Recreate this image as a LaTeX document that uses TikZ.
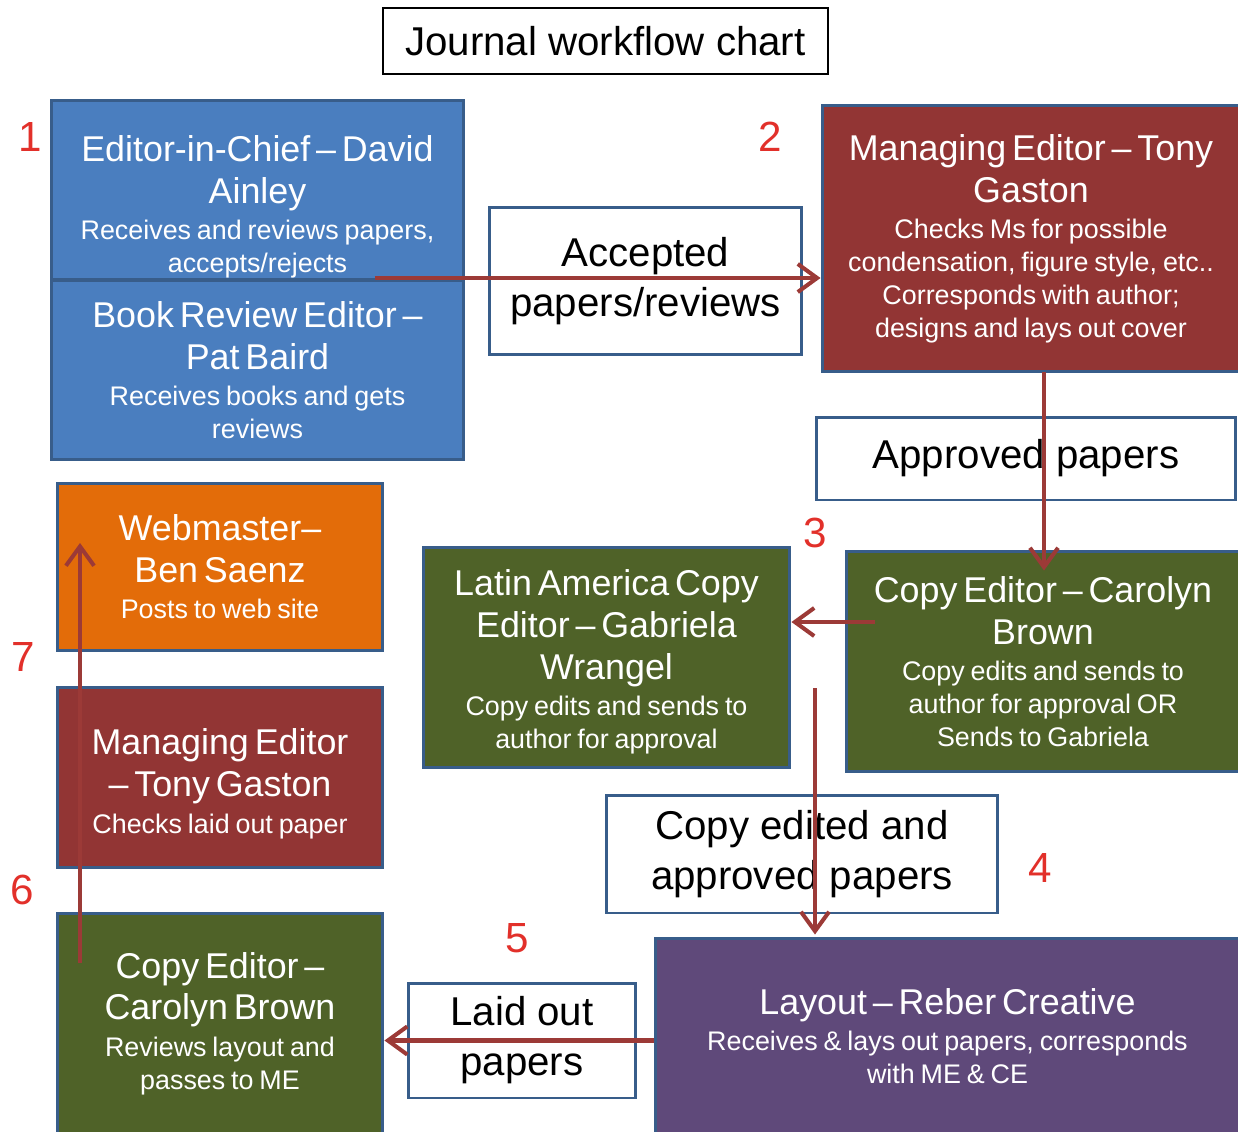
\documentclass[tikz,border=0pt]{standalone}
\usepackage{fontspec}
\setmainfont{Liberation Sans}
\usepackage{xcolor}
\usepackage{tikz}
\usetikzlibrary{shapes,arrows.meta,positioning,calc}

\definecolor{boxblue}{HTML}{4A7EBF}
\definecolor{boxred}{HTML}{923534}
\definecolor{boxgreen}{HTML}{4F6228}
\definecolor{boxpurple}{HTML}{5F497A}
\definecolor{boxorange}{HTML}{E36C09}
\definecolor{edgeblue}{HTML}{385D8A}
\definecolor{flowred}{HTML}{9C3A37}
\definecolor{numred}{HTML}{E2302A}

\newcommand{\headfont}{\fontsize{20.4}{23.8}\selectfont}
\newcommand{\subfont}{\fontsize{15.3}{18.7}\selectfont}
\newcommand{\labfont}{\fontsize{22.9}{28.4}\selectfont}
\newcommand{\subpart}{\par\vspace{2pt}\subfont}

\begin{document}
\begin{tikzpicture}[x=0.02cm, y=-0.02cm,
    role/.style={rectangle, draw=edgeblue, line width=1.7pt, inner sep=0pt, align=center, text=white},
    tag/.style={rectangle, draw=edgeblue, line width=1.7pt, fill=white, inner sep=0pt, align=center, font=\labfont},
    num/.style={text=numred, font=\fontsize{24}{28}\selectfont},
    flow/.style={draw=flowred, line width=2.3pt, -{Straight Barb[length=11pt,width=16pt]}}]

    \useasboundingbox (0,0) rectangle (1238,1132);

    % Title
    \node[draw, line width=1.2pt, minimum width=8.9cm, minimum height=1.32cm, font=\labfont] (title) at (605.5,41) {Journal workflow chart};

    % Editors
    \node[role, fill=boxblue, minimum width=8.26cm, minimum height=3.6cm, text width=8cm] (eic) at (257.5,190)
        {\headfont\rule{0pt}{34pt}Editor-in-Chief – David\\Ainley\subpart Receives and reviews papers,\\accepts/rejects\par};
    \node[role, fill=boxblue, minimum width=8.26cm, minimum height=3.6cm, text width=8cm] (bre) at (257.5,370)
        {\headfont Book Review Editor –\\Pat Baird\subpart Receives books and gets\\reviews\par};
    \node[role, fill=boxred, minimum width=8.36cm, minimum height=5.34cm, text width=8.2cm] (me) at (1031,238.5)
        {\headfont Managing Editor – Tony\\Gaston\subpart Checks Ms for possible\\condensation, figure style, etc..\\Corresponds with author;\\designs and lays out cover\par};
    \node[role, fill=boxgreen, minimum width=7.88cm, minimum height=4.42cm, text width=7.7cm] (ce) at (1043,661.5)
        {\headfont Copy Editor – Carolyn\\Brown\subpart Copy edits and sends to\\author for approval OR\\Sends to Gabriela\par};
    \node[role, fill=boxgreen, minimum width=7.34cm, minimum height=4.42cm, text width=7.2cm] (la) at (606.5,657.5)
        {\headfont\rule{0pt}{20pt}Latin America Copy\\Editor – Gabriela\\Wrangel\subpart Copy edits and sends to\\author for approval\par};
    \node[role, fill=boxpurple, minimum width=11.7cm, minimum height=3.92cm, text width=11.4cm] (lay) at (947.5,1036)
        {\headfont Layout – Reber Creative\subpart Receives \& lays out papers, corresponds\\with ME \& CE\par};
    \node[role, fill=boxgreen, minimum width=6.52cm, minimum height=4.42cm, text width=6.3cm] (cb) at (220,1023.5)
        {\headfont Copy Editor –\\Carolyn Brown\subpart Reviews layout and\\passes to ME\par};
    \node[role, fill=boxred, minimum width=6.52cm, minimum height=3.62cm, text width=6.3cm] (mes) at (220,777.5)
        {\headfont\rule{0pt}{22pt}Managing Editor\\– Tony Gaston\subpart Checks laid out paper\par};
    \node[role, fill=boxorange, minimum width=6.52cm, minimum height=3.36cm, text width=6.3cm] (web) at (220,567)
        {\headfont Webmaster–\\Ben Saenz\subpart Posts to web site\par};

    % Hand-over labels
    \node[tag, minimum width=6.26cm, minimum height=2.96cm] (acc) at (645.5,281) {Accepted\\papers/reviews};
    \node[tag, minimum width=8.4cm, minimum height=1.66cm] (app) at (1026,458.5) {Approved papers};
    \node[tag, minimum width=7.84cm, minimum height=2.36cm] (cea) at (802,854) {Copy edited and\\approved papers};
    \node[tag, minimum width=4.56cm, minimum height=2.3cm] (lop) at (522,1040.5) {Laid out\\papers};

    % Step numbers
    \node[num] (n1) at (30,137) {1};
    \node[num] (n2) at (770,137) {2};
    \node[num] (n3) at (815,533) {3};
    \node[num] (n4) at (1040,868) {4};
    \node[num] (n5) at (517,938) {5};
    \node[num] (n6) at (22,890) {6};
    \node[num] (n7) at (23,657) {7};

    % Flow
    \coordinate (a1) at (375,278);
    \coordinate (a2) at (1044,372);
    \coordinate (a3) at (875,622);
    \coordinate (a4) at (815,688);
    \coordinate (a6) at (80,963);
    \coordinate (a7) at (80,543);
    \draw[flow] (a1) -- (a1 -| me.west);
    \draw[flow, shorten >=-0.42cm] (a2) -- (a2 |- ce.north);
    \draw[flow] (a3) -- (a3 -| la.east);
    \draw[flow, shorten >=0.04cm] (a4) -- (a4 |- lay.north);
    \draw[flow] (lay.west |- lop.center) -- (cb.east |- lop.center);
    \draw[flow] (a6) -- (a7);

\end{tikzpicture}
\end{document}
